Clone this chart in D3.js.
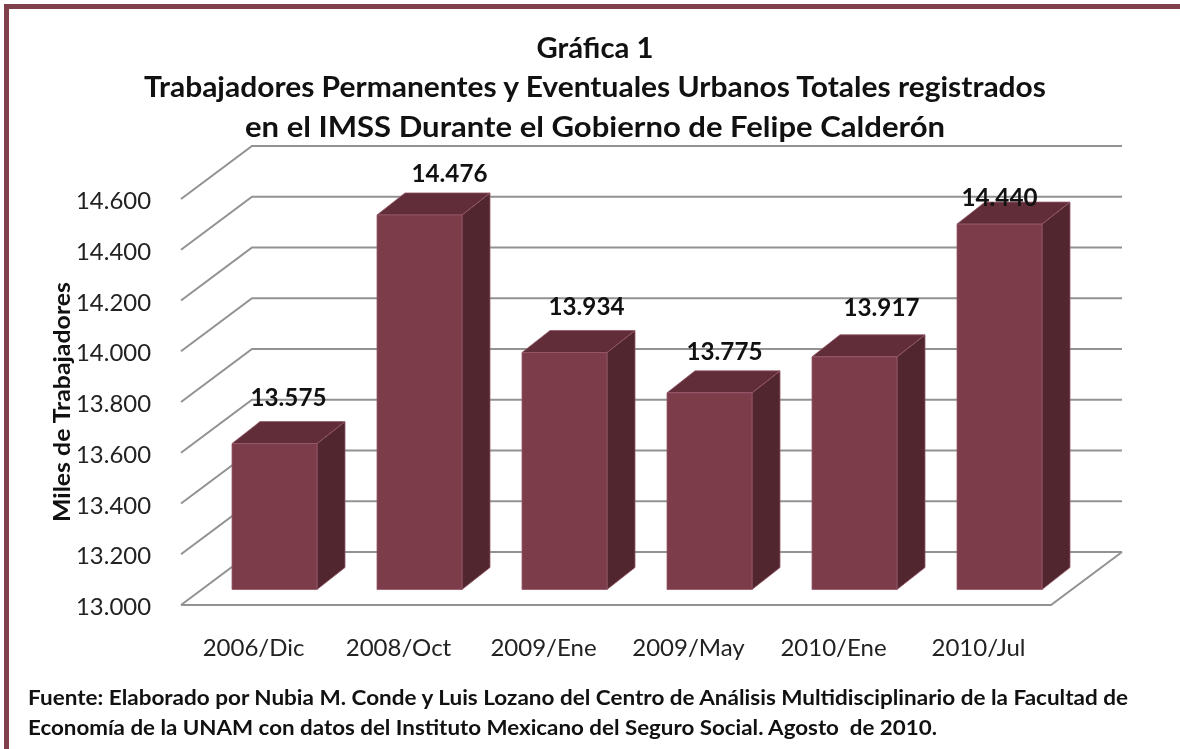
<!DOCTYPE html>
<html>
<head>
<meta charset="utf-8">
<script src="https://cdn.jsdelivr.net/npm/d3@7"></script>
<style>
  body { margin: 0; background: #fff; }
  text { font-family: Lato, "Open Sans", sans-serif; }
  svg { filter: blur(0.45px); display: block; }
</style>
</head>
<body>
<div id="container"></div>
<script>
/* DATA */
const categories = ["2006/Dic", "2008/Oct", "2009/Ene", "2009/May", "2010/Ene", "2010/Jul"];
const workers = [13575, 14476, 13934, 13775, 13917, 14440];
const yTicks = [13000, 13200, 13400, 13600, 13800, 14000, 14200, 14400, 14600];
const titleLines = [
  "Gráfica 1",
  "Trabajadores Permanentes y Eventuales Urbanos Totales registrados",
  "en el IMSS Durante el Gobierno de Felipe Calderón"
];
const yTitle = "Miles de Trabajadores";
const sourceLines = [
  "Fuente: Elaborado por Nubia M. Conde y Luis Lozano del Centro de Análisis Multidisciplinario de la Facultad de",
  "Economía de la UNAM con datos del Instituto Mexicano del Seguro Social. Agosto  de 2010."
];

/* CONSTANTS AND GLOBALS */
const width = 1180,
  height = 749,
  margin = ({top: 199, right: 129, bottom: 144, left: 181});

// the chart box, the wall sits this far behind the front edge
const depth = {x: 71, y: -53};
// the bars stand part of the way into the floor and have their own depth
const barInset = {x: 21, y: -15.5};
const barDepth = {x: 28, y: -22};

// the data labels were dragged by hand in the original chart
const labelNudge = [[14, -25], [30, -20], [22, -24], [15, -20], [27, -28], [0, -5]];

const format = d3.format(".3f");
const dotted = d => format(d / 1000);

const xScale = d3.scaleBand()
  .domain(categories)
  .range([margin.left, width - margin.right])
  .paddingInner(60 / 145)
  .paddingOuter(30 / 145);

const yScale = d3.scaleLinear()
  .domain([13000, 14600])
  .range([height - margin.bottom, margin.top]);

const svg = d3.select("#container")
  .append("svg")
  .attr("width", width)
  .attr("height", height)
  .attr("viewBox", [0, 0, width, height]);

// frame, only top and left are inside the picture
svg.append("path")
  .attr("d", `M6.5,${height} V6.5 H${width}`)
  .attr("fill", "none")
  .attr("stroke", "#7f3f4d")
  .attr("stroke-width", 5);

/* TITLE */
const titleSpec = [
  {y: 58, len: 117},
  {y: 97, len: 902},
  {y: 137, len: 700}
];
svg.append("g")
  .selectAll("text")
  .data(titleLines)
  .join("text")
  .attr("x", 595)
  .attr("y", (d, i) => titleSpec[i].y)
  .attr("text-anchor", "middle")
  .attr("font-size", 28)
  .attr("font-weight", 700)
  .attr("fill", "#111")
  .attr("textLength", (d, i) => titleSpec[i].len)
  .attr("lengthAdjust", "spacingAndGlyphs")
  .text(d => d);

/* GRID */
const left = margin.left;
const right = width - margin.right;
const grid = svg.append("g")
  .attr("fill", "none")
  .attr("stroke", "#929292")
  .attr("stroke-width", 2);

grid.selectAll("path.tick-line")
  .data(yTicks)
  .join("path")
  .attr("class", "tick-line")
  .attr("d", d => {
    const y = yScale(d);
    return `M${left},${y} L${left + depth.x},${y + depth.y} H${right + depth.x}`;
  });

// floor front and right edge
grid.append("path")
  .attr("d", `M${left},${yScale(13000)} H${right} L${right + depth.x},${yScale(13000) + depth.y}`);

/* BARS */
const bars = svg.append("g")
  .selectAll("g.bar")
  .data(categories.map((c, i) => ({cat: c, value: workers[i], i})))
  .join("g")
  .attr("class", "bar")
  .attr("stroke", "#94586a")
  .attr("stroke-width", 0.8)
  .attr("stroke-linejoin", "round");

const x0 = d => xScale(d.cat) + barInset.x;
const x1 = d => x0(d) + xScale.bandwidth();
const yTop = d => yScale(d.value) + barInset.y;
const yBase = yScale(13000) + barInset.y;

bars.append("path") // side
  .attr("fill", "#52262f")
  .attr("d", d => `M${x1(d)},${yTop(d)} l${barDepth.x},${barDepth.y} V${yBase + barDepth.y} L${x1(d)},${yBase} Z`);

bars.append("path") // top
  .attr("fill", "#602d38")
  .attr("d", d => `M${x0(d)},${yTop(d)} l${barDepth.x},${barDepth.y} H${x1(d) + barDepth.x} L${x1(d)},${yTop(d)} Z`);

bars.append("rect") // front
  .attr("fill", "#7d3c4a")
  .attr("x", x0)
  .attr("y", yTop)
  .attr("width", xScale.bandwidth())
  .attr("height", d => yBase - yTop(d));

/* AXES */
const xAxis = d3.axisBottom(xScale).tickSize(0).tickPadding(0);
const yAxis = d3.axisLeft(yScale).tickValues(yTicks).tickFormat(dotted).tickSize(0).tickPadding(0);

svg.append("g")
  .attr("transform", `translate(0,${yScale(13000) + 51})`)
  .call(xAxis)
  .call(g => g.select(".domain").remove())
  .call(g => g.selectAll("text")
    .attr("font-size", 24)
    .attr("font-family", "Lato, sans-serif")
    .attr("fill", "#222")
    .attr("dy", 0));

svg.append("g")
  .attr("transform", `translate(151,2)`)
  .call(yAxis)
  .call(g => g.select(".domain").remove())
  .call(g => g.selectAll("text")
    .attr("font-size", 24)
    .attr("font-family", "Lato, sans-serif")
    .attr("fill", "#222")
    .attr("textLength", 75)
    .attr("lengthAdjust", "spacingAndGlyphs"));

svg.append("text")
  .attr("transform", "translate(70,402) rotate(-90)")
  .attr("text-anchor", "middle")
  .attr("font-size", 23)
  .attr("font-weight", 700)
  .attr("fill", "#111")
  .attr("textLength", 240)
  .attr("lengthAdjust", "spacingAndGlyphs")
  .text(yTitle);

/* DATA LABELS */
svg.append("g")
  .selectAll("text")
  .data(workers)
  .join("text")
  .attr("x", (d, i) => xScale(categories[i]) + barInset.x + xScale.bandwidth() / 2 + labelNudge[i][0])
  .attr("y", (d, i) => yScale(d) + barInset.y + barDepth.y + labelNudge[i][1] + 9)
  .attr("text-anchor", "middle")
  .attr("font-size", 24)
  .attr("font-weight", 700)
  .attr("fill", "#111")
  .attr("textLength", 76)
  .attr("lengthAdjust", "spacingAndGlyphs")
  .text(dotted);

/* SOURCE */
const sourceSpec = [{y: 705, len: 1100}, {y: 735, len: 909}];
svg.append("g")
  .selectAll("text")
  .data(sourceLines)
  .join("text")
  .attr("x", 28)
  .attr("y", (d, i) => sourceSpec[i].y)
  .attr("font-size", 21)
  .attr("font-weight", 700)
  .attr("fill", "#111")
  .attr("xml:space", "preserve")
  .attr("textLength", (d, i) => sourceSpec[i].len)
  .attr("lengthAdjust", "spacingAndGlyphs")
  .text(d => d);
</script>
</body>
</html>
